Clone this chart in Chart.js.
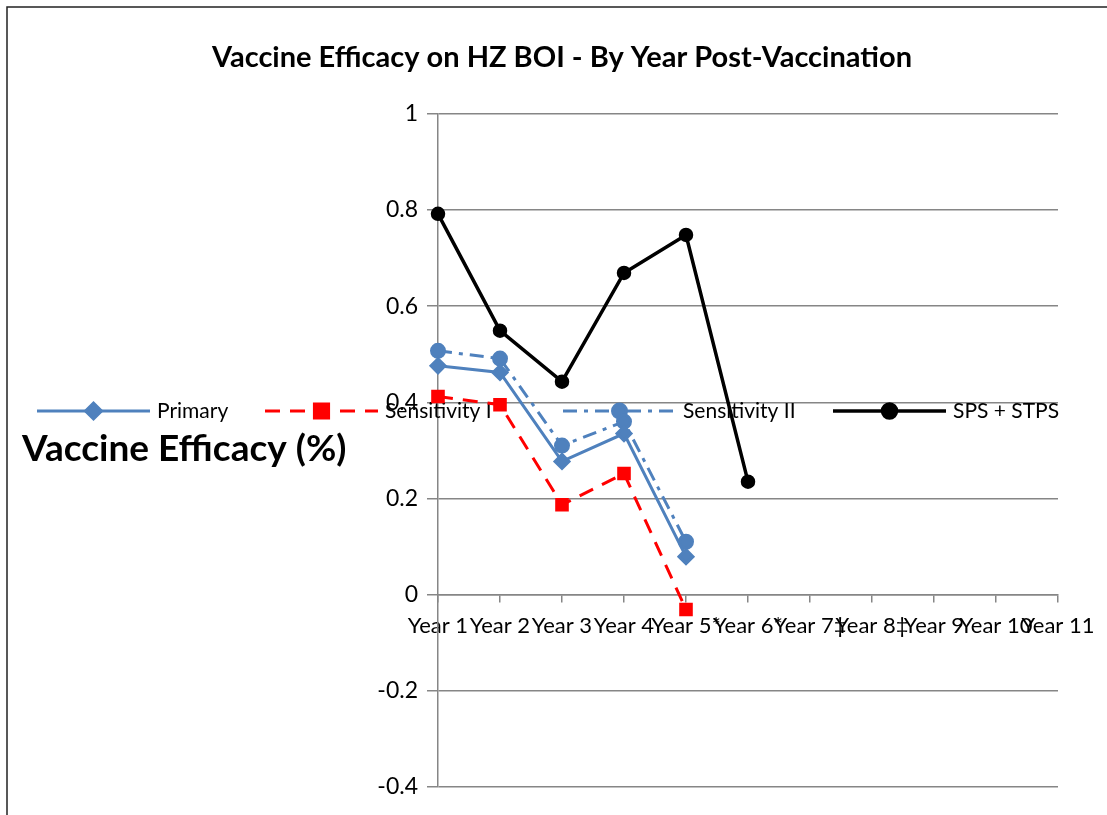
<!DOCTYPE html>
<html>
<head>
<meta charset="utf-8">
<script src="https://cdn.jsdelivr.net/npm/chart.js@4/dist/chart.umd.min.js"></script>
<style>
  html, body { margin: 0; padding: 0; background: #fff; }
  #wrap { width: 1107px; height: 815px; position: relative; }
</style>
</head>
<body>
<div id="wrap"><canvas id="c" width="1107" height="815"></canvas></div>
<script>
// ---- Data ----
const categories = ["Year 1", "Year 2", "Year 3", "Year 4", "Year 5*", "Year 6*", "Year 7\u2021", "Year 8\u2021", "Year 9", "Year 10", "Year 11"];
const primary = [0.476, 0.462, 0.277, 0.335, 0.079, null, null, null, null, null, null];
const sensitivityI = [0.412, 0.395, 0.187, 0.252, -0.031, null, null, null, null, null, null];
const sensitivityII = [0.507, 0.491, 0.310, 0.360, 0.110, null, null, null, null, null, null];
const spsStps = [0.792, 0.549, 0.443, 0.669, 0.748, 0.235, null, null, null, null, null];
const yTicks = [-0.4, -0.2, 0, 0.2, 0.4, 0.6, 0.8, 1];
const seriesNames = ["Primary", "Sensitivity I", "Sensitivity II", "SPS + STPS"];

const FONT = "Lato, 'DejaVu Sans', sans-serif";
Chart.defaults.font.family = FONT;
Chart.defaults.color = "#000";

const GRID = "#868686";

const customPlugin = {
  id: "custom",
  beforeDraw(chart) {
    const ctx = chart.ctx;
    ctx.save();
    ctx.strokeStyle = "#222";
    ctx.lineWidth = 1.5;
    ctx.beginPath();
    ctx.moveTo(7, chart.height);
    ctx.lineTo(7, 7);
    ctx.lineTo(chart.width, 7);
    ctx.stroke();
    ctx.restore();
  },
  beforeDatasetsDraw(chart) {
    const ctx = chart.ctx;
    ctx.save();
    // Axis title (horizontal, left of chart)
    ctx.font = "bold 37px " + FONT;
    ctx.fillStyle = "#000";
    ctx.textBaseline = "middle";
    ctx.textAlign = "left";
    ctx.fillText("Vaccine Efficacy (%)", 22, 449);

    // Legend
    const starts = [37, 265, 563, 833];
    const lineLen = 113;
    const y = 411;
    chart.data.datasets.forEach((ds, i) => {
      const x0 = starts[i];
      ctx.save();
      ctx.strokeStyle = ds.borderColor;
      ctx.lineWidth = ds.borderWidth;
      ctx.setLineDash(ds.borderDash || []);
      ctx.beginPath();
      ctx.moveTo(x0, y);
      ctx.lineTo(x0 + lineLen, y);
      ctx.stroke();
      ctx.setLineDash([]);
      ctx.fillStyle = ds.pointBackgroundColor;
      ctx.strokeStyle = ds.pointBorderColor;
      Chart.helpers.drawPoint(ctx, {
        pointStyle: ds.pointStyle,
        radius: ds.legendRadius,
        rotation: 0,
        borderWidth: 1
      }, x0 + lineLen / 2, y);
      ctx.restore();
      ctx.font = "21px " + FONT;
      ctx.fillStyle = "#000";
      ctx.textBaseline = "middle";
      ctx.textAlign = "left";
      ctx.fillText(ds.label, x0 + lineLen + 7, y);
    });
    ctx.restore();
  }
};

new Chart(document.getElementById("c"), {
  type: "line",
  data: {
    labels: categories,
    datasets: [
      {
        label: seriesNames[0], data: primary,
        borderColor: "#4F81BD", backgroundColor: "#4F81BD",
        pointBackgroundColor: "#4F81BD", pointBorderColor: "#4F81BD",
        borderWidth: 3, pointStyle: "rectRot", pointRadius: 7, legendRadius: 8,
        tension: 0, spanGaps: false
      },
      {
        label: seriesNames[1], data: sensitivityI,
        borderColor: "#FF0000", backgroundColor: "#FF0000",
        pointBackgroundColor: "#FF0000", pointBorderColor: "#FF0000",
        borderWidth: 3, borderDash: [15, 10], pointStyle: "rect", pointRadius: 7.5, legendRadius: 10,
        tension: 0
      },
      {
        label: seriesNames[2], data: sensitivityII,
        borderColor: "#4F81BD", backgroundColor: "#4F81BD",
        pointBackgroundColor: "#4F81BD", pointBorderColor: "#4F81BD",
        borderWidth: 3, borderDash: [14, 7, 4, 7], pointStyle: "circle", pointRadius: 6.5, legendRadius: 7,
        tension: 0
      },
      {
        label: seriesNames[3], data: spsStps,
        borderColor: "#000000", backgroundColor: "#000000",
        pointBackgroundColor: "#000000", pointBorderColor: "#000000",
        borderWidth: 3.5, pointStyle: "circle", pointRadius: 5.5, legendRadius: 7,
        tension: 0
      }
    ]
  },
  options: {
    responsive: false,
    animation: false,
    layout: { padding: { left: 66, right: 49, top: 0, bottom: 28 } },
    plugins: {
      legend: { display: false },
      tooltip: { enabled: false },
      title: {
        display: true,
        text: "Vaccine Efficacy on HZ BOI - By Year Post-Vaccination",
        font: { size: 29, weight: "bold", family: FONT },
        color: "#000",
        padding: { top: 40, bottom: 39 }
      }
    },
    scales: {
      x: {
        type: "category",
        position: { y: 0 },
        offset: false,
        grid: { drawOnChartArea: false, drawTicks: true, tickLength: 7, color: GRID, lineWidth: 1.5 },
        border: { display: true, color: GRID, width: 1.5 },
        ticks: { autoSkip: false, maxRotation: 0, minRotation: 0, font: { size: 22 }, color: "#000", padding: 11 }
      },
      y: {
        min: -0.4, max: 1,
        afterBuildTicks(scale) { scale.ticks = yTicks.map(v => ({ value: v })); },
        afterFit(scale) { scale.width = 372; },
        grid: { color: GRID, lineWidth: 1.5, tickLength: 11, drawTicks: true },
        border: { display: true, color: GRID, width: 1.5 },
        ticks: {
          font: { size: 23 }, color: "#000", padding: 9,
          callback: v => Number(v.toFixed(1)).toString()
        }
      }
    }
  },
  plugins: [customPlugin]
});
</script>
</body>
</html>
